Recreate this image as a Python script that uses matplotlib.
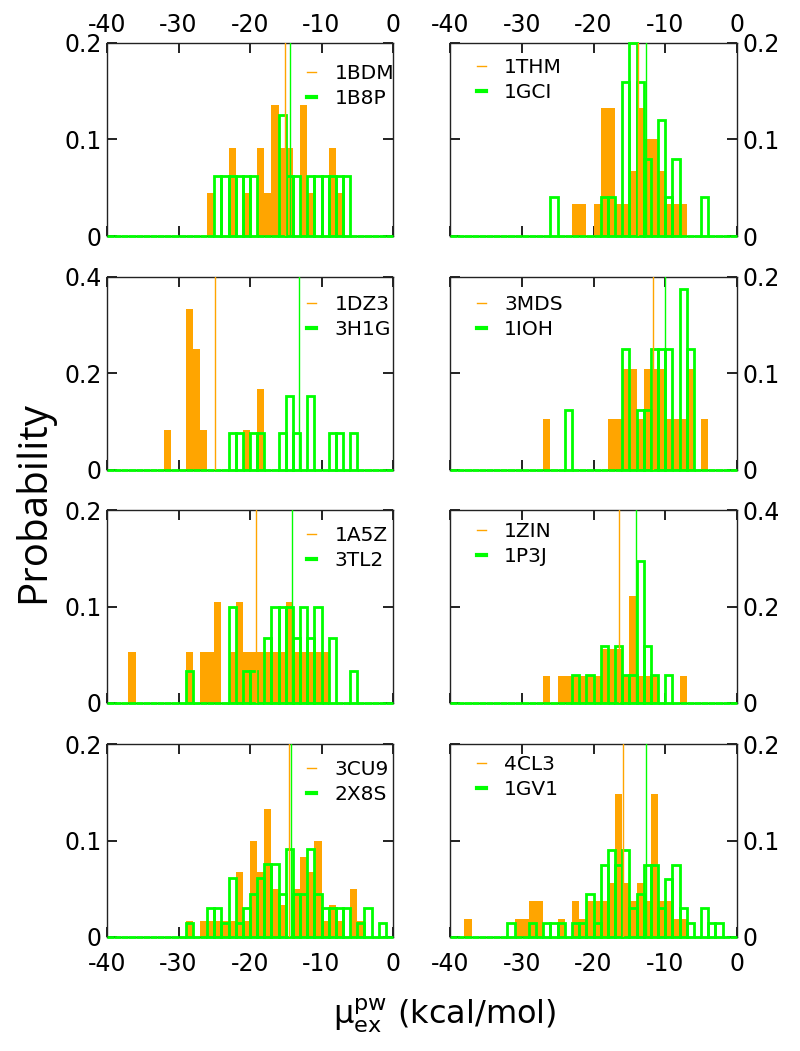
import numpy as np
import matplotlib
matplotlib.use('Agg')
import matplotlib.pyplot as plt
from matplotlib.lines import Line2D
from matplotlib.ticker import FuncFormatter

plt.rcParams['axes.unicode_minus'] = False

ORANGE = '#FFA500'
GREEN = '#00FF00'

# unit-width histogram bins from -40 to 0 kcal/mol (left edges)
bin_left = np.arange(-40, 0)

# ---- panel 1 (top left)
p1_o_name = '1BDM'
p1_o_bins = [-26, -23, -21, -19, -18, -17, -16, -15, -13, -12, -9, -8]
p1_o_prob = [0.045, 0.091, 0.045, 0.091, 0.045, 0.136, 0.091, 0.091, 0.136, 0.045, 0.091, 0.045]
p1_g_name = '1B8P'
p1_g_bins = [-25, -24, -23, -22, -21, -20, -16, -15, -14, -12, -11, -10, -9, -8, -7]
p1_g_prob = [0.0625, 0.0625, 0.0625, 0.0625, 0.0625, 0.0625, 0.125, 0.0625, 0.0625,
             0.0625, 0.0625, 0.0625, 0.0625, 0.0625, 0.0625]
p1_means = [-15.1, -14.35]

# ---- panel 2 (top right)
p2_o_name = '1THM'
p2_o_bins = [-23, -22, -20, -19, -18, -17, -16, -15, -14, -13, -12, -11, -10, -9, -8]
p2_o_prob = [0.033, 0.033, 0.033, 0.133, 0.133, 0.033, 0.033, 0.067, 0.133, 0.1, 0.1,
             0.067, 0.033, 0.033, 0.033]
p2_g_name = '1GCI'
p2_g_bins = [-26, -19, -18, -16, -15, -14, -13, -11, -10, -9, -5]
p2_g_prob = [0.04, 0.04, 0.04, 0.16, 0.2, 0.16, 0.08, 0.12, 0.04, 0.08, 0.04]
p2_means = [-13.8, -12.7]

# ---- panel 3
p3_o_name = '1DZ3'
p3_o_bins = [-32, -29, -28, -27, -21, -19]
p3_o_prob = [0.083, 0.333, 0.25, 0.083, 0.083, 0.167]
p3_g_name = '3H1G'
p3_g_bins = [-23, -22, -20, -19, -16, -15, -14, -12, -9, -8, -6]
p3_g_prob = [0.077, 0.077, 0.077, 0.077, 0.077, 0.154, 0.077, 0.154, 0.077, 0.077, 0.077]
p3_means = [-24.9, -13.1]

# ---- panel 4
p4_o_name = '3MDS'
p4_o_bins = [-27, -18, -17, -16, -15, -14, -13, -12, -11, -10, -9, -8, -7, -5]
p4_o_prob = [0.053, 0.053, 0.053, 0.105, 0.105, 0.053, 0.105, 0.105, 0.105, 0.053,
             0.053, 0.053, 0.105, 0.053]
p4_g_name = '1IOH'
p4_g_bins = [-24, -16, -14, -13, -12, -11, -10, -8, -7]
p4_g_prob = [0.0625, 0.125, 0.0625, 0.0625, 0.125, 0.125, 0.125, 0.1875, 0.125]
p4_means = [-11.74, -10.1]

# ---- panel 5
p5_o_name = '1A5Z'
p5_o_bins = [-37, -29, -27, -26, -25, -23, -22, -21, -20, -19, -18, -17, -16, -15,
             -14, -13, -12, -11, -10]
p5_o_prob = [0.053, 0.053, 0.053, 0.053, 0.105, 0.053, 0.105, 0.053, 0.053, 0.053,
             0.053, 0.053, 0.053, 0.105, 0.053, 0.053, 0.053, 0.053, 0.053]
p5_g_name = '3TL2'
p5_g_bins = [-29, -23, -21, -20, -18, -17, -16, -15, -14, -13, -12, -11, -9, -6]
p5_g_prob = [0.033, 0.1, 0.033, 0.033, 0.067, 0.1, 0.1, 0.1, 0.067, 0.1, 0.067, 0.1,
             0.067, 0.033]
p5_means = [-19.1, -14.1]

# ---- panel 6
p6_o_name = '1ZIN'
p6_o_bins = [-27, -25, -24, -23, -22, -21, -20, -19, -18, -17, -16, -15, -14, -13, -12, -8]
p6_o_prob = [0.056, 0.056, 0.056, 0.056, 0.056, 0.056, 0.056, 0.111, 0.111, 0.111,
             0.056, 0.222, 0.056, 0.056, 0.056, 0.056]
p6_g_name = '1P3J'
p6_g_bins = [-23, -21, -19, -17, -16, -15, -14, -13, -12, -10]
p6_g_prob = [0.059, 0.059, 0.118, 0.118, 0.059, 0.059, 0.294, 0.118, 0.059, 0.059]
p6_means = [-16.47, -14.14]

# ---- panel 7
p7_o_name = '3CU9'
p7_o_bins = [-29, -27, -26, -25, -24, -23, -22, -21, -20, -19, -18, -17, -16, -14,
             -13, -12, -11, -10, -9, -8, -6, -5]
p7_o_prob = [0.017, 0.017, 0.017, 0.017, 0.017, 0.017, 0.067, 0.017, 0.1, 0.067, 0.133,
             0.05, 0.033, 0.05, 0.083, 0.067, 0.1, 0.017, 0.033, 0.017, 0.05, 0.017]
p7_g_name = '2X8S'
p7_g_bins = [-29, -26, -25, -24, -23, -22, -21, -20, -19, -18, -17, -16, -15, -14,
             -13, -12, -11, -10, -9, -8, -7, -5, -4, -2]
p7_g_prob = [0.015, 0.03, 0.03, 0.015, 0.061, 0.015, 0.03, 0.045, 0.061, 0.076, 0.076,
             0.045, 0.091, 0.045, 0.045, 0.091, 0.045, 0.03, 0.03, 0.03, 0.03, 0.015,
             0.03, 0.015]
p7_means = [-14.6, -14.2]

# ---- panel 8
p8_o_name = '4CL3'
p8_o_bins = [-38, -31, -30, -29, -28, -25, -23, -22, -21, -20, -19, -18, -17, -16,
             -15, -14, -13, -12, -11, -10, -9, -8]
p8_o_prob = [0.0185, 0.0185, 0.0185, 0.037, 0.037, 0.0185, 0.037, 0.0185, 0.037, 0.037,
             0.037, 0.056, 0.148, 0.056, 0.037, 0.056, 0.037, 0.148, 0.037, 0.037,
             0.0185, 0.0185]
p8_g_name = '1GV1'
p8_g_bins = [-32, -29, -27, -26, -25, -23, -22, -21, -20, -19, -18, -17, -16, -15,
             -14, -13, -12, -11, -10, -9, -8, -7, -5, -4, -3]
p8_g_prob = [0.015, 0.015, 0.015, 0.015, 0.015, 0.015, 0.015, 0.045, 0.015, 0.075,
             0.09, 0.075, 0.09, 0.03, 0.045, 0.075, 0.075, 0.03, 0.06, 0.075, 0.03,
             0.015, 0.03, 0.015, 0.015]
p8_means = [-15.93, -12.71]

x_ticks = [-40, -30, -20, -10, 0]
ymax_left = [0.2, 0.4, 0.2, 0.2]
ymax_right = [0.2, 0.2, 0.4, 0.2]

panels = [
    (p1_o_name, p1_o_bins, p1_o_prob, p1_g_name, p1_g_bins, p1_g_prob, p1_means),
    (p2_o_name, p2_o_bins, p2_o_prob, p2_g_name, p2_g_bins, p2_g_prob, p2_means),
    (p3_o_name, p3_o_bins, p3_o_prob, p3_g_name, p3_g_bins, p3_g_prob, p3_means),
    (p4_o_name, p4_o_bins, p4_o_prob, p4_g_name, p4_g_bins, p4_g_prob, p4_means),
    (p5_o_name, p5_o_bins, p5_o_prob, p5_g_name, p5_g_bins, p5_g_prob, p5_means),
    (p6_o_name, p6_o_bins, p6_o_prob, p6_g_name, p6_g_bins, p6_g_prob, p6_means),
    (p7_o_name, p7_o_bins, p7_o_prob, p7_g_name, p7_g_bins, p7_g_prob, p7_means),
    (p8_o_name, p8_o_bins, p8_o_prob, p8_g_name, p8_g_bins, p8_g_prob, p8_means),
]


def full_hist(bins, probs):
    h = np.zeros(len(bin_left))
    for b, p in zip(bins, probs):
        h[int(b) + 40] = p
    return h


W, H = 800, 1051
fig = plt.figure(figsize=(W / 100, H / 100), dpi=100)

col_x = [107, 450]
col_w = [286, 287]
row_top = [43, 277, 510, 744]
row_h = 193
# legend first-row offset below the top spine (pixels), per panel
legend_drop = [29, 23, 26, 26, 24, 20, 24, 19]

fmt = FuncFormatter(lambda v, pos: '0' if abs(v) < 1e-9 else f'{v:g}')

for i, (oname, obins, oprob, gname, gbins, gprob, means) in enumerate(panels):
    row, col = divmod(i, 2)
    ax = fig.add_axes([col_x[col] / W, 1 - (row_top[row] + row_h) / H,
                       col_w[col] / W, row_h / H])
    ymax = ymax_left[row] if col == 0 else ymax_right[row]
    oh = full_hist(obins, oprob)
    gh = full_hist(gbins, gprob)
    nz = oh > 0
    ax.bar(bin_left[nz], oh[nz], width=1.0, align='edge', color=ORANGE,
           linewidth=0, zorder=2)
    ax.bar(bin_left, gh, width=1.0, align='edge', facecolor='none',
           edgecolor=GREEN, linewidth=2.0, zorder=3, clip_on=False)
    ax.axvline(means[0], color=ORANGE, lw=1.0, zorder=4)
    ax.axvline(means[1], color=GREEN, lw=1.0, zorder=4)

    ax.set_xlim(-40, 0)
    ax.set_ylim(0, ymax)
    ax.set_xticks(x_ticks)
    ax.set_yticks([0, ymax / 2, ymax])
    ax.yaxis.set_major_formatter(fmt)
    for s in ax.spines.values():
        s.set_linewidth(1.0)
        s.set_color('#222222')
    ax.tick_params(direction='in', length=7, width=1.3, top=True, right=True,
                   labelsize=17, pad=4, color='#111111')
    ax.tick_params(axis='x', labeltop=(row == 0), labelbottom=(row == 3))
    if row == 3:
        ax.tick_params(axis='x', which='major', pad=10.5)
    ax.tick_params(axis='y', labelleft=(col == 0), labelright=(col == 1))

    handles = [Line2D([0], [0], color=ORANGE, lw=1.0),
               Line2D([0], [0], color=GREEN, lw=3.0)]
    top_frac = 1 - (legend_drop[i] - 8) / row_h
    anchor = (0.70, top_frac) if col == 0 else (0.094, top_frac)
    ax.legend(handles, [oname, gname], loc='upper left', bbox_to_anchor=anchor,
              frameon=False, fontsize=14.5, handlelength=0.45, handletextpad=0.9,
              labelspacing=0.3, borderpad=0, borderaxespad=0)

fig.text(34 / W, 1 - 502 / H, 'Probability', rotation=90, ha='center', va='center',
         fontsize=29, family='Open Sans')
fig.text(445 / W, 1 - 1024 / H, r'$\mathregular{\mu_{ex}^{pw}}$ (kcal/mol)',
         ha='center', va='baseline', fontsize=23)

fig.savefig('out.png', dpi=100)
